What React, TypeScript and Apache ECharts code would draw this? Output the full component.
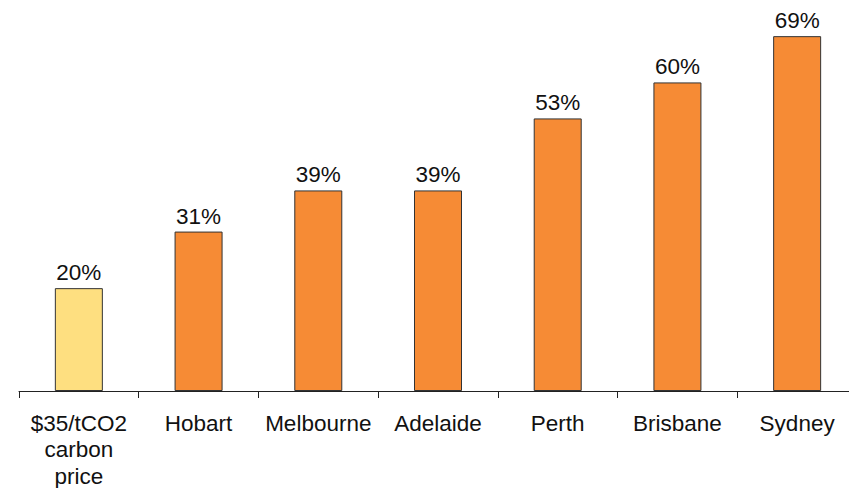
import React, { useEffect, useRef } from "react";
import * as echarts from "echarts";

const categories = ["$35/tCO2\ncarbon\nprice", "Hobart", "Melbourne", "Adelaide", "Perth", "Brisbane", "Sydney"];
const values = [20, 31, 39, 39, 53, 60, 69];
const barColors = ["#FEDF80", "#F68B35", "#F68B35", "#F68B35", "#F68B35", "#F68B35", "#F68B35"];

export default function App() {
  const ref = useRef<HTMLDivElement>(null);
  useEffect(() => {
    if (!ref.current) return;
    const chart = echarts.init(ref.current, null, { renderer: "svg" });
    chart.setOption({
      animation: false,
      grid: { left: 19, top: 31, width: 840, bottom: 105, containLabel: false },
      xAxis: {
        type: "category",
        data: categories,
        axisLine: { show: true, lineStyle: { color: "#222", width: 1 } },
        axisTick: { show: true, length: 7, lineStyle: { color: "#222" } },
        axisLabel: {
          color: "#111",
          fontFamily: "Liberation Sans, Arial, sans-serif",
          fontSize: 22.5,
          lineHeight: 26.5,
          margin: 19,
          interval: 0,
        },
      },
      yAxis: {
        type: "value",
        min: 0,
        max: 70,
        show: false,
        splitLine: { show: false },
      },
      series: [
        {
          type: "bar",
          data: values.map((v, i) => ({ value: v, itemStyle: { color: barColors[i] } })),
          barWidth: 48,
          itemStyle: { borderColor: "#333", borderWidth: 1 },
          label: {
            show: true,
            position: "top",
            distance: 4,
            formatter: "{c}%",
            color: "#111",
            fontFamily: "Liberation Sans, Arial, sans-serif",
            fontSize: 22.5,
          },
        },
      ],
    });
    return () => chart.dispose();
  }, []);
  return <div ref={ref} style={{ width: 857, height: 496, margin: -8 }} />;
}
